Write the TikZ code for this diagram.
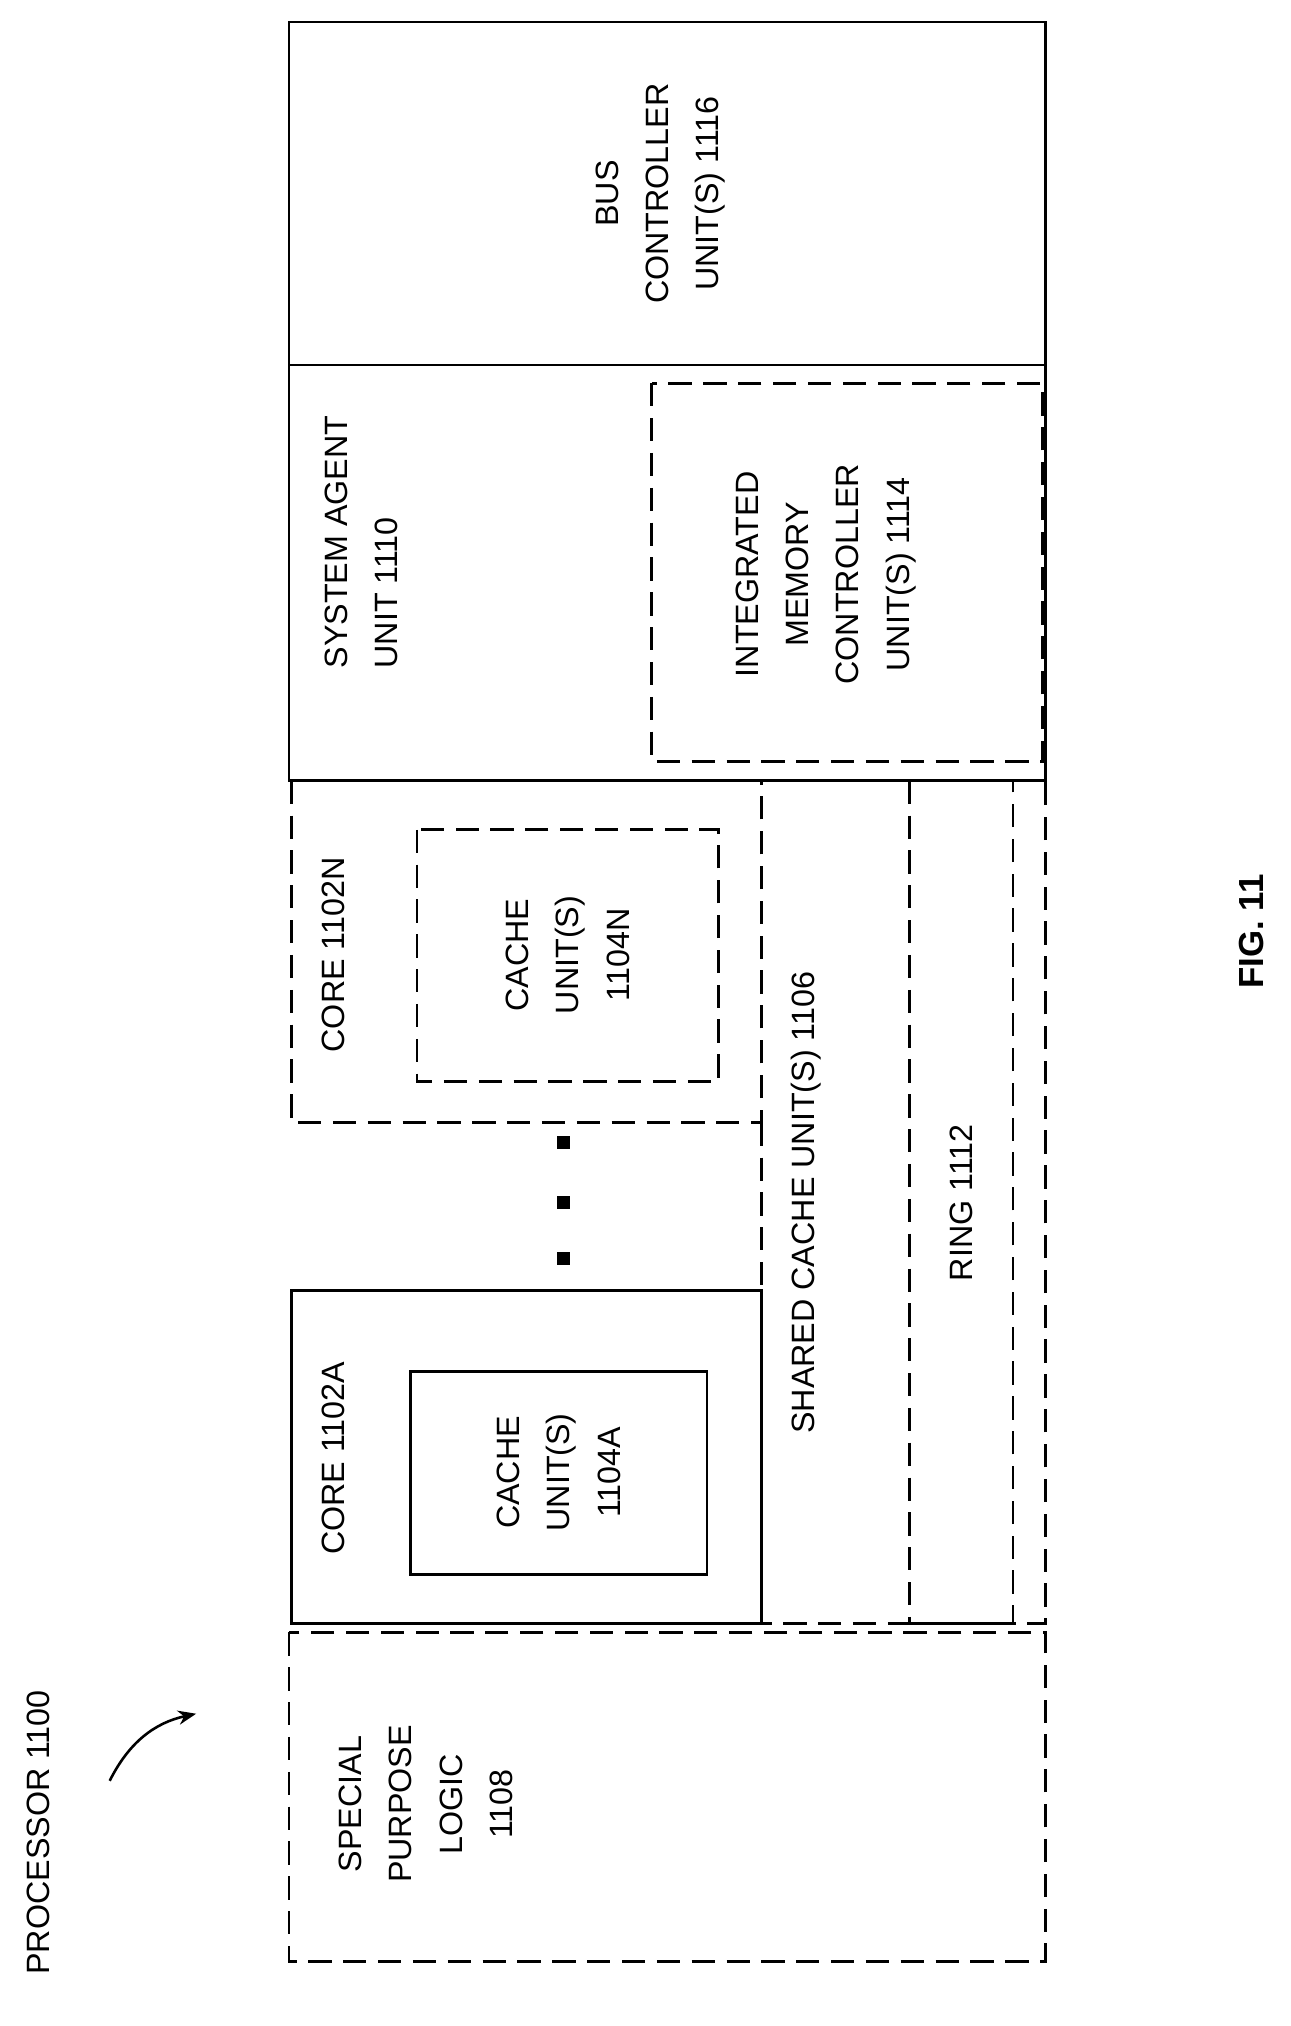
\documentclass[tikz,border=0pt]{standalone}
\usepackage{fontspec}
\usetikzlibrary{arrows.meta}
\setmainfont{Liberation Sans}
\begin{document}
\begin{tikzpicture}[x=1pt,y=-1pt,line width=2pt,
  sol/.style={draw=black},
  das/.style={draw=black,dash pattern=on 18pt off 9pt},
  lbl/.style={rotate=90,align=center,font=\fontsize{25}{39}\selectfont,inner sep=0pt}]
\useasboundingbox (0,0) rectangle (1000,1570);
\draw[sol] (224,17) rectangle (810,283);
\draw[sol] (224,283) rectangle (810,605);
\draw[das] (505,297) rectangle (808,590);
\draw[das] (226,605) rectangle (590,870);
\draw[das] (323,643) rectangle (557,838);
\draw[das] (590,870) -- (590,1258) -- (810,1258) -- (810,605) -- (590,605);
\draw[das] (705,605) rectangle (785,1258);
\draw[sol,fill=white] (226,1000) rectangle (590,1258);
\draw[sol] (318,1063) rectangle (548,1220);
\draw[das] (224,1265) rectangle (810,1520);
\foreach \y in {885,932,975} \fill (432,\y-5) rectangle (442,\y+5);
\node[lbl] (bus) at (512,150) {BUS\\CONTROLLER\\UNIT(S) 1116};
\node[lbl,align=left] (sa) at (280,420) {SYSTEM AGENT\\UNIT 1110};
\node[lbl] (imc) at (640,445) {INTEGRATED\\MEMORY\\CONTROLLER\\UNIT(S) 1114};
\node[lbl] (coren) at (258,740) {CORE 1102N};
\node[lbl] (cachen) at (440,740) {CACHE\\UNIT(S)\\1104N};
\node[lbl] (shared) at (625,932) {SHARED CACHE UNIT(S) 1106};
\node[lbl] (ring) at (745,932) {RING 1112};
\node[lbl] (corea) at (258,1130) {CORE 1102A};
\node[lbl] (cachea) at (433,1141) {CACHE\\UNIT(S)\\1104A};
\node[lbl] (spl) at (330,1398) {SPECIAL\\PURPOSE\\LOGIC\\1108};
\node[lbl] (proc) at (30,1420) {PROCESSOR 1100};
\node[lbl,font=\fontsize{27}{31}\selectfont\bfseries] (fig) at (970,722) {FIG. 11};
\coordinate (a1) at (85,1380);
\coordinate (a2) at (152,1328);
\draw[-{Stealth[length=14pt,width=11pt]}] (a1) .. controls (100,1350) and (120,1335) .. (a2);
\end{tikzpicture}
\end{document}
